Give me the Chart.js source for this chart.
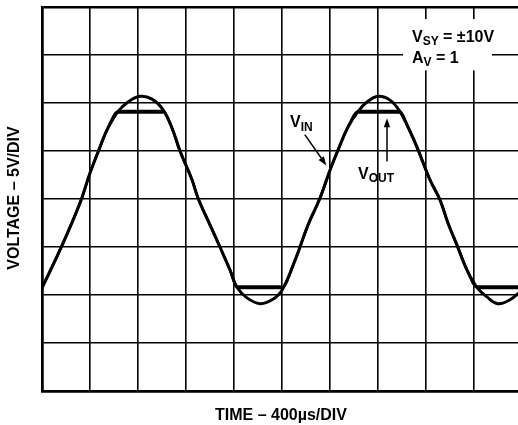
<!DOCTYPE html>
<html>
<head>
<meta charset="utf-8">
<script src="https://cdn.jsdelivr.net/npm/chart.js@4/dist/chart.umd.min.js"></script>
<style>
  html, body { margin: 0; padding: 0; background: #fff; overflow: hidden; }
  #wrap { position: absolute; left: 0; top: 0; width: 540px; height: 425px; }
</style>
</head>
<body>
<div id="wrap"><canvas id="c" width="540" height="425"></canvas></div>
<script>
// Time axis (µs), 400 µs per division, 10 divisions
const timeUs = [0, 150, 317, 400, 483, 542, 633, 717, 817, 917, 1008, 1083, 1150, 1250, 1300, 1400, 1483, 1567, 1625, 1708, 1817, 1917, 2000, 2108, 2217, 2317, 2400, 2467, 2550, 2633, 2708, 2800, 2900, 2983, 3050, 3125, 3233, 3317, 3383, 3458, 3542, 3625, 3708, 3800, 3900, 4000];
// Input voltage (V), 5 V per division
const vIn = [-9.3, -5.3, -0.4, 2.7, 5.4, 7.2, 9.1, 10.1, 10.7, 10.4, 9.3, 7.4, 5.0, 2.0, 0.1, -2.7, -5.0, -7.4, -9.2, -10.3, -10.9, -10.5, -9.5, -6.4, -2.7, 0.1, 3.0, 5.1, 7.5, 9.1, 10.1, 10.7, 10.3, 9.1, 7.5, 5.4, 2.0, -0.1, -2.5, -4.8, -7.4, -9.2, -10.2, -10.9, -10.5, -9.5];
// Output voltage (V), clipped near the rails
const vOut = [-9.2, -5.3, -0.4, 2.7, 5.4, 7.2, 9.1, 9.1, 9.1, 9.1, 9.1, 7.4, 5.0, 2.0, 0.1, -2.7, -5.0, -7.4, -9.2, -9.2, -9.2, -9.2, -9.2, -6.4, -2.7, 0.1, 3.0, 5.1, 7.5, 9.1, 9.1, 9.1, 9.1, 9.1, 7.5, 5.4, 2.0, -0.1, -2.5, -4.8, -7.4, -9.2, -9.2, -9.2, -9.2, -9.2];
const xTitle = 'TIME – 400µs/DIV';
const yTitle = 'VOLTAGE – 5V/DIV';

const FONT = '"Liberation Sans", Arial, Helvetica, sans-serif';

function drawSub(ctx, x, y, main, sub, size, subSize, rest) {
  ctx.font = 'bold ' + size + 'px ' + FONT;
  ctx.fillText(main, x, y);
  let w = ctx.measureText(main).width;
  ctx.font = 'bold ' + subSize + 'px ' + FONT;
  ctx.fillText(sub, x + w, y + size * 0.22);
  w += ctx.measureText(sub).width;
  if (rest) {
    ctx.font = 'bold ' + size + 'px ' + FONT;
    ctx.fillText(rest, x + w, y);
    w += ctx.measureText(rest).width;
  }
  return w;
}

function arrow(ctx, x1, y1, x2, y2) {
  const ang = Math.atan2(y2 - y1, x2 - x1);
  const L = 9, W = 3.2;
  ctx.beginPath();
  ctx.moveTo(x1, y1);
  ctx.lineTo(x2 - Math.cos(ang) * L * 0.8, y2 - Math.sin(ang) * L * 0.8);
  ctx.lineWidth = 1.5;
  ctx.strokeStyle = '#000';
  ctx.stroke();
  ctx.beginPath();
  ctx.moveTo(x2, y2);
  ctx.lineTo(x2 - Math.cos(ang) * L - Math.sin(ang) * W, y2 - Math.sin(ang) * L + Math.cos(ang) * W);
  ctx.lineTo(x2 - Math.cos(ang) * L + Math.sin(ang) * W, y2 - Math.sin(ang) * L - Math.cos(ang) * W);
  ctx.closePath();
  ctx.fillStyle = '#000';
  ctx.fill();
}

const annot = {
  id: 'annot',
  afterDraw(chart) {
    const ctx = chart.ctx;
    const xs = chart.scales.x, ys = chart.scales.y;
    const px = v => xs.getPixelForValue(v);
    const py = v => ys.getPixelForValue(v);
    ctx.save();
    ctx.fillStyle = '#000';
    ctx.textBaseline = 'alphabetic';
    ctx.textAlign = 'left';

    // Supply / gain box
    ctx.fillStyle = '#fff';
    ctx.fillRect(px(3008), py(18.75), px(3750) - px(3008), py(13.4) - py(18.75));
    ctx.fillStyle = '#000';
    drawSub(ctx, px(3083), py(16.4), 'V', 'SY', 16, 12, ' = ±10V');
    drawSub(ctx, px(3083), py(14.2), 'A', 'V', 16, 12, ' = 1');

    // V_IN label + arrow
    drawSub(ctx, px(2067), py(7.5), 'V', 'IN', 16, 12);
    arrow(ctx, px(2190), py(6.7), px(2370), py(3.5));

    // V_OUT label + arrow
    drawSub(ctx, px(2633), py(2.1), 'V', 'OUT', 16, 12);
    arrow(ctx, px(2875), py(3.9), px(2875), py(8.4));

    // Axis titles
    ctx.font = 'bold 16px ' + FONT;
    ctx.textAlign = 'center';
    ctx.textBaseline = 'middle';
    ctx.fillText(xTitle, 281, 416);
    ctx.translate(15, 198);
    ctx.rotate(-Math.PI / 2);
    ctx.fillText(yTitle, 0, 0);
    ctx.restore();
  }
};

new Chart(document.getElementById('c'), {
  type: 'line',
  data: {
    datasets: [
      {
        label: 'VOUT',
        data: timeUs.map((t, i) => ({ x: t, y: vOut[i] })),
        borderColor: '#000',
        borderWidth: 2.6,
        pointRadius: 0,
        cubicInterpolationMode: 'monotone',
        segment: {
          borderWidth: s => (s.p0.parsed.y === s.p1.parsed.y) ? 4 : 2.6
        },
        fill: false,
        order: 2
      },
      {
        label: 'VIN',
        data: timeUs.map((t, i) => ({ x: t, y: vIn[i] })),
        borderColor: '#000',
        borderWidth: 3,
        pointRadius: 0,
        tension: 0.4,
        fill: false,
        order: 1
      }
    ]
  },
  options: {
    responsive: false,
    animation: false,
    devicePixelRatio: 1,
    layout: { padding: { left: 42, right: 18, top: 7, bottom: 34 } },
    plugins: { legend: { display: false }, tooltip: { enabled: false } },
    scales: {
      x: {
        type: 'linear', min: 0, max: 4000,
        ticks: { display: false, stepSize: 400 },
        grid: {
          color: '#000', drawTicks: false,
          lineWidth: c => (c.index === 0 || c.index === 10) ? 2.5 : 1.6
        },
        border: { display: true, color: '#000', width: 2.5 }
      },
      y: {
        type: 'linear', min: -20, max: 20,
        ticks: { display: false, stepSize: 5 },
        grid: {
          color: '#000', drawTicks: false,
          lineWidth: c => (c.index === 0 || c.index === 8) ? 2.5 : 1.6
        },
        border: { display: true, color: '#000', width: 2.5 }
      }
    }
  },
  plugins: [annot]
});
</script>
</body>
</html>
